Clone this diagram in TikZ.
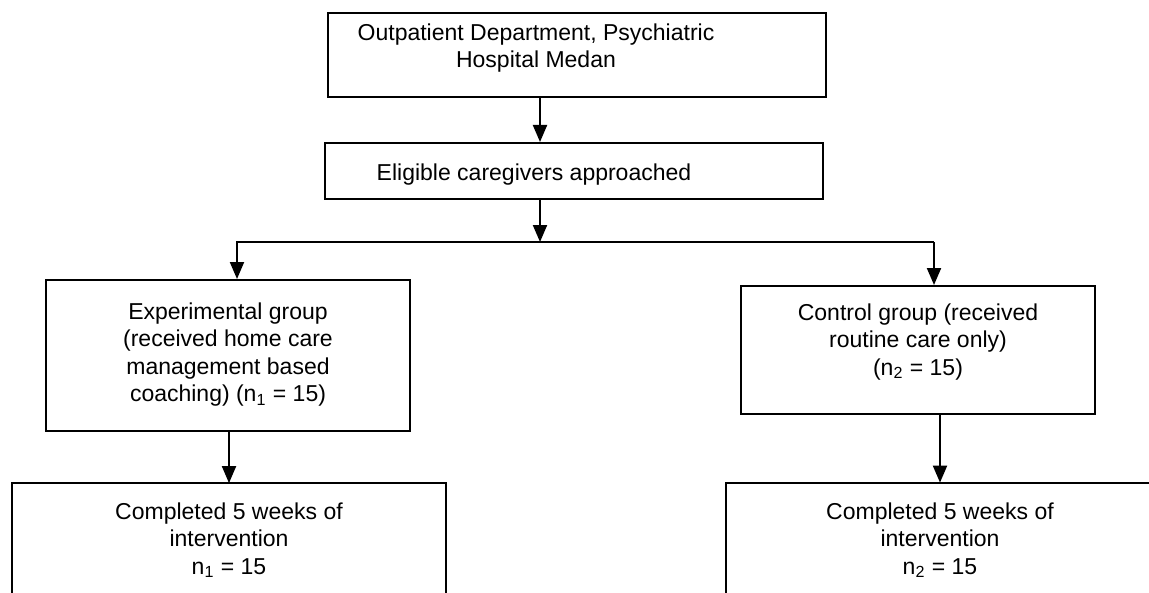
\documentclass[tikz,border=0pt]{standalone}
\usepackage{fontspec}
\setmainfont{Liberation Sans}
\usetikzlibrary{arrows.meta}
\newcommand{\pxScale}{0.5pt}
\newcommand{\flowFont}{\fontsize{11.5}{13.8}\selectfont}

\begin{document}
\begin{tikzpicture}[x=\pxScale, y=-\pxScale]
  \tikzset{flowBox/.style={draw, rectangle, line width=1pt, inner sep=0pt},
    openBox/.style={rectangle, inner sep=0pt},
    flowText/.style={align=center, anchor=north, inner sep=0pt, font=\flowFont},
    flowArrow/.style={line width=1pt, -{Triangle[length=8.5pt, width=7pt]}}}
  \useasboundingbox (0,0) rectangle (1149,593);
  \node[flowBox, minimum width=249pt, minimum height=42pt] (hospitalBox) at (577,55) {};
  \node[flowText] (hospitalText) at (536,23) {Outpatient Department, Psychiatric\\Hospital Medan};
  \node[flowBox, minimum width=249pt, minimum height=28pt] (eligibleBox) at (574,171) {};
  \node[flowText] (eligibleText) at (534,163) {Eligible caregivers approached};
  \node[flowBox, minimum width=182pt, minimum height=75.5pt] (experimentalBox) at (228,355.5) {};
  \node[flowText] (experimentalText) at (228,302) {Experimental group\\(received home care\\management based\\coaching) (n\textsubscript{1} = 15)};
  \node[flowBox, minimum width=177pt, minimum height=64pt] (controlBox) at (918,350) {};
  \node[flowText] (controlText) at (918,303) {Control group (received\\routine care only)\\(n\textsubscript{2} = 15)};
  \node[openBox, minimum width=217pt, minimum height=55pt] (leftDoneBox) at (229,538.5) {};
  \node[flowText] (leftDoneText) at (229,502) {Completed 5 weeks of\\intervention\\n\textsubscript{1} = 15};
  \node[openBox, minimum width=212pt, minimum height=55pt] (rightDoneBox) at (938,538) {};
  \node[flowText] (rightDoneText) at (940,502) {Completed 5 weeks of\\intervention\\n\textsubscript{2} = 15};
  \coordinate (mainAxis) at (540,0);
  \coordinate (splitLeft) at (237,242);
  \coordinate (splitRight) at (934,242);
  \draw[line width=1pt] (leftDoneBox.south west) -- (leftDoneBox.north west) -- (leftDoneBox.north east) -- (leftDoneBox.south east);
  \draw[line width=1pt] (rightDoneBox.south west) -- (rightDoneBox.north west) -- (rightDoneBox.north east);
  \draw[flowArrow] (hospitalBox.south -| mainAxis) -- (eligibleBox.north -| mainAxis);
  \draw[flowArrow] (eligibleBox.south -| mainAxis) -- (splitLeft -| mainAxis);
  \draw[flowArrow] (splitRight) -- (splitLeft) -- (splitLeft |- experimentalBox.north);
  \draw[flowArrow] (splitRight) -- (splitRight |- controlBox.north);
  \draw[flowArrow] (experimentalBox.south -| leftDoneText) -- (leftDoneBox.north -| leftDoneText);
  \draw[flowArrow] (controlBox.south -| rightDoneText) -- (rightDoneBox.north -| rightDoneText);
\end{tikzpicture}
\end{document}
